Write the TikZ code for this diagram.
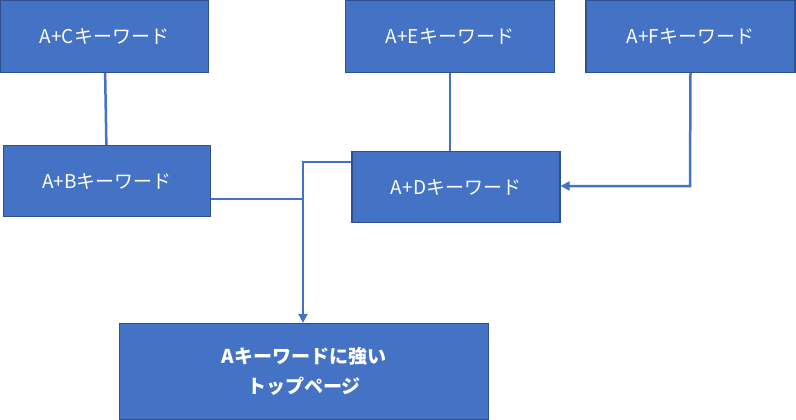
\documentclass[tikz,border=0pt]{standalone}
\usepackage{fontspec}
\setmainfont{Noto Sans CJK JP}
\usetikzlibrary{arrows.meta}
\definecolor{kwblue}{HTML}{4472C4}
\definecolor{kwedge}{HTML}{2F528F}

\begin{document}
\begin{tikzpicture}[x=1pt, y=-1pt]
    \tikzset{kwbox/.style = {rectangle, draw=kwedge, line width=1.2pt, fill=kwblue, text=white, font=\fontsize{19}{23}\selectfont, inner sep=0pt}}
    \tikzset{link/.style = {draw=kwblue, line width=2.5pt}}
    \useasboundingbox (0,0) rectangle (796,420);

    \node [kwbox, minimum width=208pt, minimum height=72pt] (ac) at (104.5,36.5) {A+Cキーワード};
    \node [kwbox, minimum width=209pt, minimum height=72pt] (ae) at (450,36.5) {A+Eキーワード};
    \node [kwbox, minimum width=209pt, minimum height=72pt] (af) at (690.5,36.5) {A+Fキーワード};
    \node [kwbox, minimum width=207pt, minimum height=71pt] (ab) at (107,181) {A+Bキーワード};
    \node [kwbox, minimum width=208pt, minimum height=71pt] (ad) at (456,187) {A+Dキーワード};
    \node [kwbox, minimum width=369pt, minimum height=96pt, font=\fontsize{19}{30}\selectfont\bfseries, align=center] (top) at (304,371.5) {Aキーワードに強い\\トップページ};

    \coordinate (joinB) at (302,199);
    \coordinate (joinD) at (303,162);
    \coordinate (turnF) at (690,186);

    \path [link] (ac) -- (ab);
    \path [link] (ae.south) -- (ae.south |- ad.north);
    \path [link, -{Triangle[length=9pt,width=9pt]}] (af.south) -- (turnF) -- (ad.east |- turnF);
    \path [link] (ab.east |- joinB) -- (joinB);
    \path [link, -{Triangle[length=9pt,width=9pt]}] (ad.west |- joinD) -- (joinD) -- (joinD |- top.north);
\end{tikzpicture}
\end{document}
